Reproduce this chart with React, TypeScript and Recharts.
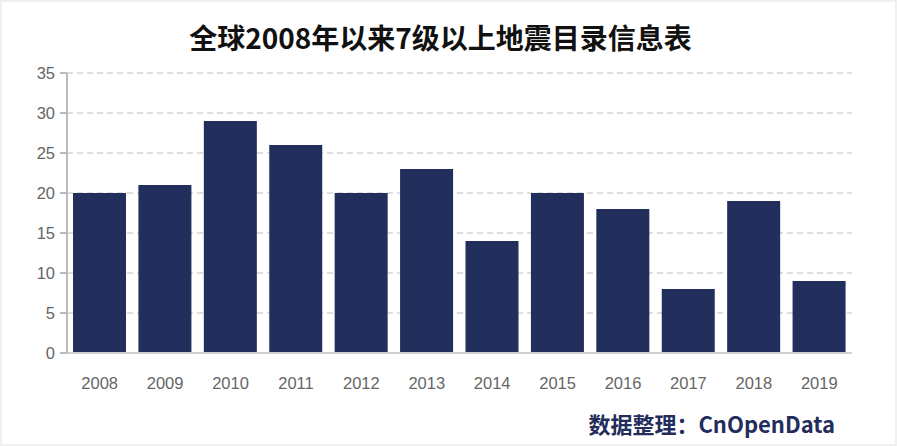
import React from "react";
import { BarChart, Bar, XAxis, YAxis, CartesianGrid } from "recharts";

const years = ["2008", "2009", "2010", "2011", "2012", "2013", "2014", "2015", "2016", "2017", "2018", "2019"];
const counts = [20, 21, 29, 26, 20, 23, 14, 20, 18, 8, 19, 9];
const yTicks = [0, 5, 10, 15, 20, 25, 30, 35];

const data = years.map((y, i) => ({ year: y, count: counts[i] }));

export default function App() {
  return (
    <div
      style={{
        position: "absolute",
        left: 0,
        top: 0,
        width: 897,
        height: 446,
        boxSizing: "border-box",
        border: "2px solid #f0f0f0",
        background: "#fff",
        fontFamily: "'Liberation Sans', Arial, sans-serif",
      }}
    >
      <div
        style={{
          position: "absolute",
          left: 0,
          right: 16,
          top: 17,
          textAlign: "center",
          fontFamily: "'Noto Sans CJK SC', sans-serif",
          fontWeight: 600,
          fontSize: 28,
          color: "#111",
          lineHeight: "36px",
        }}
      >
        全球2008年以来7级以上地震目录信息表
      </div>
      <div style={{ position: "absolute", left: -2, top: -2 }}>
        <BarChart
          width={897}
          height={446}
          data={data}
          margin={{ top: 73, right: 45, bottom: 53, left: 0 }}
          barCategoryGap={6}
        >
          <CartesianGrid vertical={false} stroke="#d4d4d4" strokeDasharray="6 4" strokeWidth={1.5} />
          <XAxis
            dataKey="year"
            height={40}
            tickLine={false}
            axisLine={{ stroke: "#d0d0d0", strokeWidth: 2 }}
            tick={{ fill: "#666", fontSize: 16.5 }}
            tickMargin={18}
          />
          <YAxis
            width={67}
            domain={[0, 35]}
            ticks={yTicks}
            interval={0}
            axisLine={{ stroke: "#bbb", strokeWidth: 2 }}
            tickLine={{ stroke: "#bbb", strokeWidth: 2 }}
            tickSize={7}
            tickMargin={5}
            tick={{ fill: "#666", fontSize: 16.5 }}
          />
          <Bar dataKey="count" fill="#222e5c" isAnimationActive={false} />
        </BarChart>
      </div>
      <div
        style={{
          position: "absolute",
          right: 60,
          top: 406,
          fontFamily: "'Noto Sans CJK SC', sans-serif",
          fontWeight: 700,
          fontSize: 22,
          color: "#232d5c",
          lineHeight: "30px",
        }}
      >
        数据整理：CnOpenData
      </div>
    </div>
  );
}
